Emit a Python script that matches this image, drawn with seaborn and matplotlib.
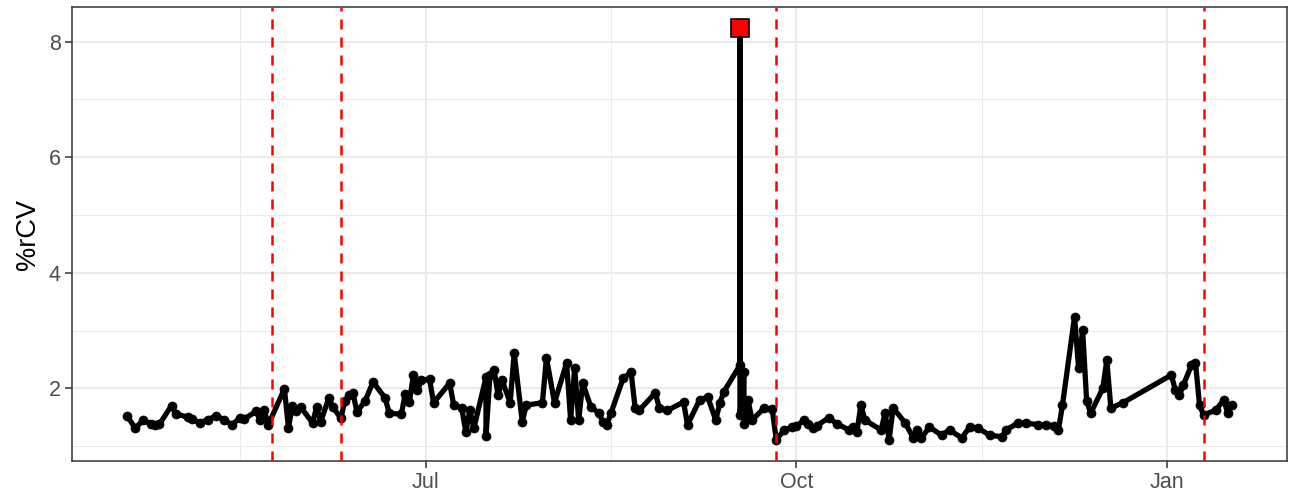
import matplotlib
matplotlib.use("Agg")
import matplotlib.pyplot as plt
import matplotlib.dates as mdates
import matplotlib.ticker as mticker
import seaborn as sns
import pandas as pd

dates = [
    "2021-04-18", "2021-04-20", "2021-04-22", "2021-04-24", "2021-04-25", "2021-04-26",
    "2021-04-29", "2021-04-30", "2021-05-03", "2021-05-04", "2021-05-06", "2021-05-08",
    "2021-05-10", "2021-05-12", "2021-05-14", "2021-05-16", "2021-05-17", "2021-05-20",
    "2021-05-21", "2021-05-22", "2021-05-23", "2021-05-27", "2021-05-28", "2021-05-29",
    "2021-05-30", "2021-05-31", "2021-06-03", "2021-06-04", "2021-06-05", "2021-06-07",
    "2021-06-08", "2021-06-10", "2021-06-11", "2021-06-12", "2021-06-13", "2021-06-14",
    "2021-06-16", "2021-06-18", "2021-06-21", "2021-06-22", "2021-06-25", "2021-06-26",
    "2021-06-27", "2021-06-28", "2021-06-29", "2021-06-30", "2021-07-02", "2021-07-03",
    "2021-07-07", "2021-07-08", "2021-07-10", "2021-07-11", "2021-07-12", "2021-07-13",
    "2021-07-16", "2021-07-16", "2021-07-17", "2021-07-18", "2021-07-19", "2021-07-20",
    "2021-07-22", "2021-07-23", "2021-07-25", "2021-07-26", "2021-07-30", "2021-07-31",
    "2021-08-02", "2021-08-05", "2021-08-06", "2021-08-07", "2021-08-08", "2021-08-09",
    "2021-08-11", "2021-08-13", "2021-08-14", "2021-08-15", "2021-08-16", "2021-08-19",
    "2021-08-21", "2021-08-22", "2021-08-23", "2021-08-27", "2021-08-28", "2021-08-30",
    "2021-09-03", "2021-09-04", "2021-09-07", "2021-09-09", "2021-09-11", "2021-09-12",
    "2021-09-13", "2021-09-17", "2021-09-17", "2021-09-17", "2021-09-18", "2021-09-18",
    "2021-09-19", "2021-09-19", "2021-09-20", "2021-09-23", "2021-09-25", "2021-09-26",
    "2021-09-28", "2021-09-30", "2021-10-01", "2021-10-03", "2021-10-04", "2021-10-05",
    "2021-10-06", "2021-10-09", "2021-10-11", "2021-10-14", "2021-10-15", "2021-10-16",
    "2021-10-17", "2021-10-18", "2021-10-22", "2021-10-23", "2021-10-24", "2021-10-25",
    "2021-10-28", "2021-10-30", "2021-10-31", "2021-11-01", "2021-11-03", "2021-11-06",
    "2021-11-08", "2021-11-11", "2021-11-13", "2021-11-15", "2021-11-18", "2021-11-21",
    "2021-11-22", "2021-11-25", "2021-11-27", "2021-11-30", "2021-12-02", "2021-12-04",
    "2021-12-05", "2021-12-06", "2021-12-09", "2021-12-10", "2021-12-11", "2021-12-12",
    "2021-12-13", "2021-12-16", "2021-12-17", "2021-12-18", "2021-12-21", "2022-01-02",
    "2022-01-03", "2022-01-04", "2022-01-05", "2022-01-07", "2022-01-08", "2022-01-09",
    "2022-01-10", "2022-01-13", "2022-01-15", "2022-01-16", "2022-01-17",
]
values = [
    1.52, 1.31, 1.45, 1.38, 1.36, 1.38,
    1.70, 1.56, 1.50, 1.47, 1.40, 1.46,
    1.52, 1.46, 1.37, 1.49, 1.47, 1.60,
    1.45, 1.62, 1.37, 1.99, 1.32, 1.70,
    1.60, 1.68, 1.40, 1.68, 1.42, 1.83,
    1.68, 1.48, 1.78, 1.88, 1.92, 1.59,
    1.78, 2.11, 1.83, 1.57, 1.55, 1.91,
    1.76, 2.23, 1.97, 2.14, 2.16, 1.75,
    2.09, 1.71, 1.66, 1.24, 1.62, 1.31,
    2.19, 1.17, 2.23, 2.32, 1.88, 2.14,
    1.75, 2.61, 1.42, 1.71, 1.75, 2.53,
    1.75, 2.44, 1.45, 2.35, 1.45, 2.09,
    1.68, 1.57, 1.42, 1.37, 1.57, 2.17,
    2.28, 1.66, 1.62, 1.92, 1.66, 1.62,
    1.76, 1.37, 1.80, 1.85, 1.45, 1.74,
    1.94, 2.40, 8.23, 1.54, 2.28, 1.39,
    1.49, 1.80, 1.45, 1.66, 1.64, 1.11,
    1.28, 1.33, 1.35, 1.45, 1.38, 1.31,
    1.35, 1.49, 1.39, 1.28, 1.33, 1.24,
    1.71, 1.45, 1.28, 1.57, 1.11, 1.66,
    1.40, 1.14, 1.28, 1.14, 1.33, 1.19,
    1.28, 1.14, 1.33, 1.31, 1.19, 1.16,
    1.28, 1.40, 1.40, 1.37, 1.37, 1.35,
    1.28, 1.71, 3.24, 2.35, 3.01, 1.78,
    1.57, 2.00, 2.49, 1.66, 1.75, 2.23,
    1.97, 1.88, 2.06, 2.40, 2.44, 1.71,
    1.54, 1.62, 1.80, 1.57, 1.71,
]
outlier_date = ["2021-09-17"]
outlier_value = [8.23]
vline_dates = ["2021-05-24", "2021-06-10", "2021-09-26", "2022-01-10"]
major_ticks = ["2021-07-01", "2021-10-01", "2022-01-01"]
minor_ticks = ["2021-05-16", "2021-08-16", "2021-11-16"]

df = pd.DataFrame({"date": pd.to_datetime(dates), "cv": values})
out = pd.DataFrame({"date": pd.to_datetime(outlier_date), "cv": outlier_value})

sns.set_theme(style="white")
plt.rcParams["font.family"] = ["Liberation Sans", "DejaVu Sans"]

fig, ax = plt.subplots(figsize=(12.94, 4.97), dpi=100)
fig.subplots_adjust(left=0.0556, right=0.9946, bottom=0.0724, top=0.985)

sns.lineplot(data=df, x="date", y="cv", sort=False, estimator=None,
             color="black", linewidth=3.8, marker="o", markersize=6.5,
             markeredgecolor="black", markeredgewidth=0.5, ax=ax, zorder=3)
sns.scatterplot(data=out, x="date", y="cv", marker="s", s=170, color="red",
                edgecolor="black", linewidth=1.2, ax=ax, zorder=5)

for d in vline_dates:
    ax.axvline(pd.Timestamp(d), color="red", linestyle=(0, (4, 3.2)),
               linewidth=1.8, zorder=4)

span = df["date"].max() - df["date"].min()
ax.set_xlim(df["date"].min() - span * 0.05, df["date"].max() + span * 0.05)
ax.set_ylim(0.742, 8.59)

ax.xaxis.set_major_locator(mticker.FixedLocator(mdates.date2num(pd.to_datetime(major_ticks))))
ax.xaxis.set_minor_locator(mticker.FixedLocator(mdates.date2num(pd.to_datetime(minor_ticks))))
ax.xaxis.set_major_formatter(mdates.DateFormatter("%b"))
ax.yaxis.set_major_locator(mticker.FixedLocator([2, 4, 6, 8]))
ax.yaxis.set_minor_locator(mticker.FixedLocator([1, 3, 5, 7]))

ax.grid(True, which="major", color="#EBEBEB", linewidth=1.4)
ax.grid(True, which="minor", color="#EBEBEB", linewidth=0.7)
ax.set_axisbelow(True)

for s in ax.spines.values():
    s.set_color("#333333")
    s.set_linewidth(1.1)

ax.tick_params(axis="both", which="major", length=5, width=1.1, color="#333333",
               labelcolor="#4D4D4D", labelsize=15.5, bottom=True, left=True, pad=3)
ax.tick_params(axis="both", which="minor", length=0)
ax.set_xlabel("")
ax.set_ylabel("%rCV", fontsize=19.5, color="black", labelpad=6)

fig.savefig("out.png", dpi=100, facecolor="white")
